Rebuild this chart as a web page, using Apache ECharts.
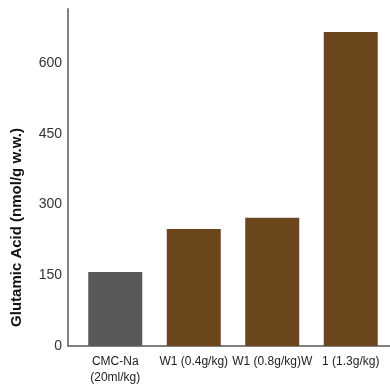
<!DOCTYPE html>
<html>
<head>
<meta charset="utf-8">
<script src="https://cdn.jsdelivr.net/npm/echarts@6/dist/echarts.min.js"></script>
<style>html,body{margin:0;padding:0;background:#fff;}#c{width:390px;height:388px;}</style>
</head>
<body>
<div id="c"></div>
<script>
const categories = ["CMC-Na\n(20ml/kg)", "W1 (0.4g/kg)", "W1 (0.8g/kg)W", "1 (1.3g/kg)"];
const glutamicValues = [157, 248, 272, 666];
const yTicks = { min: 0, max: 715, interval: 150 };
const yAxisName = "Glutamic Acid (nmol/g w.w.)";

const FONT = "Liberation Sans, Arial, sans-serif";
const chart = echarts.init(document.getElementById('c'), null, { renderer: 'canvas' });
chart.setOption({
  animation: false,
  backgroundColor: '#ffffff',
  grid: [
    { left: 68, width: 322, top: 9, bottom: 42 },
    { left: 76, width: 317, top: 9, bottom: 42 }
  ],
  xAxis: [
    { gridIndex: 0, type: 'value', min: 0, max: 1,
      axisLine: { show: true, lineStyle: { color: '#808080', width: 2 } },
      axisTick: { show: false }, axisLabel: { show: false }, splitLine: { show: false } },
    { gridIndex: 1, type: 'category', data: categories,
      axisLine: { show: false }, axisTick: { show: false }, splitLine: { show: false },
      axisLabel: { interval: 0, fontFamily: FONT, fontSize: 12, color: '#222', lineHeight: 16, margin: 8 } }
  ],
  yAxis: [
    { gridIndex: 0, type: 'value', min: yTicks.min, max: yTicks.max, interval: yTicks.interval,
      axisLine: { show: true, lineStyle: { color: '#808080', width: 2 } },
      axisTick: { show: false }, splitLine: { show: false },
      axisLabel: { showMaxLabel: false, fontFamily: FONT, fontSize: 14, color: '#333', margin: 6 },
      name: yAxisName, nameLocation: 'middle', nameGap: 44,
      nameTextStyle: { fontFamily: FONT, fontSize: 15, fontWeight: 'bold', color: '#111', padding: [0, 100, 0, 0] } },
    { gridIndex: 1, type: 'value', min: yTicks.min, max: yTicks.max, show: false }
  ],
  series: [{
    type: 'bar', xAxisIndex: 1, yAxisIndex: 1, barWidth: 54,
    data: glutamicValues,
    itemStyle: { color: p => p.dataIndex === 0 ? '#58595b' : '#6b451c' }
  }]
});
</script>
</body>
</html>
